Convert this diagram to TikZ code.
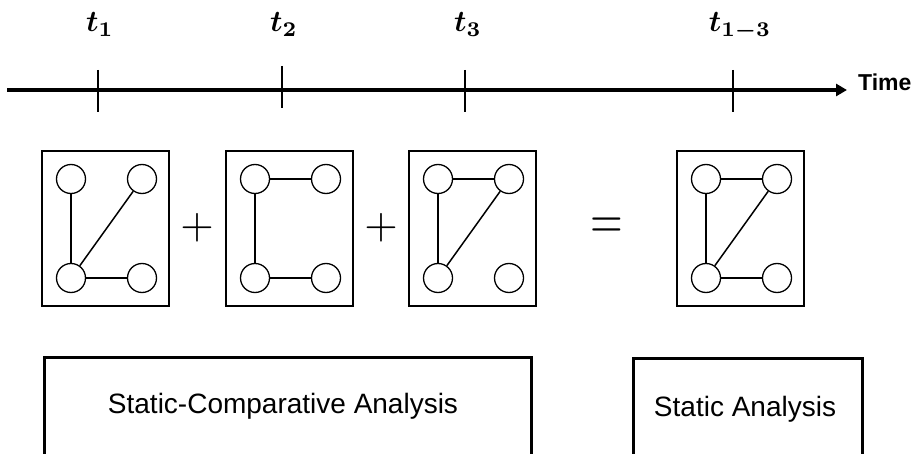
\documentclass[tikz,border=0pt]{standalone}
\usepackage{fontspec}
\usepackage{amsmath}
\usepackage{bm}
\usepackage{graphicx}
\setsansfont{Liberation Sans}
\usetikzlibrary{arrows.meta}
\newcommand{\gbox}[2]{%
  \node[gframe] (#1) at ({#2+63.5},228.5) {};
  \node[vtx] (#1tl) at ({#2+29},179) {};
  \node[vtx] (#1tr) at ({#2+100},179) {};
  \node[vtx] (#1bl) at ({#2+29},278) {};
  \node[vtx] (#1br) at ({#2+100},278) {};
}
\newcommand{\tlbl}[1]{\scalebox{3.0}{$\bm{t_{#1}}$}}
\begin{document}
\begin{tikzpicture}[x=1pt,y=-1pt,
  gframe/.style={draw,line width=1.6pt,minimum width=127pt,minimum height=155pt,inner sep=0pt},
  vtx/.style={circle,draw,line width=1.3pt,minimum size=29pt,inner sep=0pt},
  edge/.style={line width=1.5pt},
  tick/.style={line width=1.5pt},
  abox/.style={draw,line width=3pt,inner sep=0pt},
  tlab/.style={anchor=base,inner sep=0pt},
  alab/.style={anchor=base,font=\sffamily\fontsize{28}{30}\selectfont},
  op/.style={inner sep=0pt}]
\useasboundingbox (0,0) rectangle (920,454);
\clip (0,0) rectangle (920,454);
% timeline
\coordinate (ls) at (7,90);
\coordinate (le) at (847,90);
\draw[line width=4pt,-{Triangle[length=11pt,width=12pt]}] (ls) -- (le);
\node[anchor=base west,font=\sffamily\bfseries\fontsize{23}{25}\selectfont,inner sep=0pt] (time) at (858,91) {Time};
\coordinate (a1) at (98,70); \coordinate (b1) at (98,112);
\coordinate (a2) at (282,66); \coordinate (b2) at (282,108);
\coordinate (a3) at (465,70); \coordinate (b3) at (465,112);
\coordinate (a4) at (733,70); \coordinate (b4) at (733,112);
\draw[tick] (a1) -- (b1);
\draw[tick] (a2) -- (b2);
\draw[tick] (a3) -- (b3);
\draw[tick] (a4) -- (b4);
\node[tlab] (l1) at (100,32) {\tlbl{1}};
\node[tlab] (l2) at (284,32) {\tlbl{2}};
\node[tlab] (l3) at (468,32) {\tlbl{3}};
\node[tlab] (l4) at (740,32) {\tlbl{1-3}};
% graphs
\gbox{g}{42}
\gbox{h}{226}
\gbox{k}{409}
\gbox{m}{677}
\draw[edge] (gtl) -- (gbl);
\draw[edge] (gtr) -- (gbl);
\draw[edge] (gbl) -- (gbr);
\draw[edge] (htl) -- (htr);
\draw[edge] (htl) -- (hbl);
\draw[edge] (hbl) -- (hbr);
\draw[edge] (ktl) -- (ktr);
\draw[edge] (ktl) -- (kbl);
\draw[edge] (ktr) -- (kbl);
\draw[edge] (mtl) -- (mtr);
\draw[edge] (mtl) -- (mbl);
\draw[edge] (mtr) -- (mbl);
\draw[edge] (mbl) -- (mbr);
% operators
\node[op] (p1) at (197,228) {\scalebox{4.3}{$+$}};
\node[op] (p2) at (381,228) {\scalebox{4.3}{$+$}};
\node[op] (eq) at (607,228) {\scalebox{4.2}[5.6]{$=$}};
% analysis boxes
\node[abox,minimum width=487pt,minimum height=120pt] (sca) at (287.5,417) {};
\node[abox,minimum width=229pt,minimum height=120pt] (sa) at (747.5,418) {};
\node[alab] (scat) at (283,413) {Static-Comparative Analysis};
\node[alab] (sat) at (745,416) {Static Analysis};
\end{tikzpicture}
\end{document}
